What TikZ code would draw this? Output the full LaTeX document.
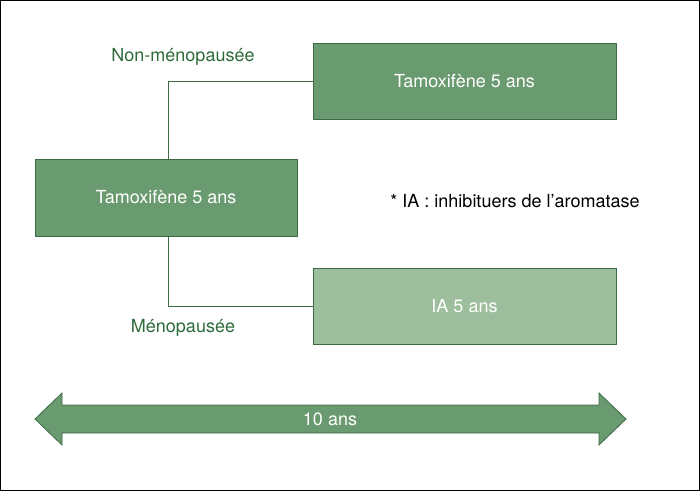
\documentclass[tikz,border=0pt]{standalone}
\usepackage{fontspec}
\setmainfont{TeX Gyre Heros}
\definecolor{gdark}{HTML}{6A9A6F}
\definecolor{glight}{HTML}{9DBF9D}
\definecolor{gline}{HTML}{3D6B45}
\definecolor{gtext}{HTML}{2E6B3A}
\begin{document}
\begin{tikzpicture}[x=1pt,y=-1pt,
  bx/.style={draw=gline,line width=0.8pt,text=white,font=\fontsize{18}{20}\selectfont},
  lbl/.style={text=gtext,font=\fontsize{18}{20}\selectfont}]
\useasboundingbox (0,0) rectangle (700,491);
\draw[line width=1pt] (0.5,0.5) rectangle (699.5,490.5);
\node[bx,fill=gdark,minimum width=303pt,minimum height=76pt] (top) at (464.5,81) {Tamoxifène 5 ans};
\node[bx,fill=gdark,minimum width=262pt,minimum height=77pt] (mid) at (166,197.5) {Tamoxifène 5 ans};
\node[bx,fill=glight,minimum width=303pt,minimum height=76pt] (bot) at (464.5,306) {IA 5 ans};
\draw[gline,line width=0.8pt] (mid.north -| 168,0) |- (top.west);
\draw[gline,line width=0.8pt] (mid.south -| 168,0) |- (bot.west);
\node[lbl] (l1) at (183,57) {Non-ménopausée};
\node[lbl] (l2) at (183,328) {Ménopausée};
\node[font=\fontsize{18}{20}\selectfont] (note) at (515,201) {* IA : inhibituers de l’aromatase};
\draw[gline,fill=gdark,line width=0.8pt] (35,419) -- (62,393) -- (62,405) -- (599,405) -- (599,393) -- (626,419) -- (599,445) -- (599,433) -- (62,433) -- (62,445) -- cycle;
\node[text=white,font=\fontsize{18}{20}\selectfont] (ten) at (330,419) {10 ans};
\end{tikzpicture}
\end{document}
